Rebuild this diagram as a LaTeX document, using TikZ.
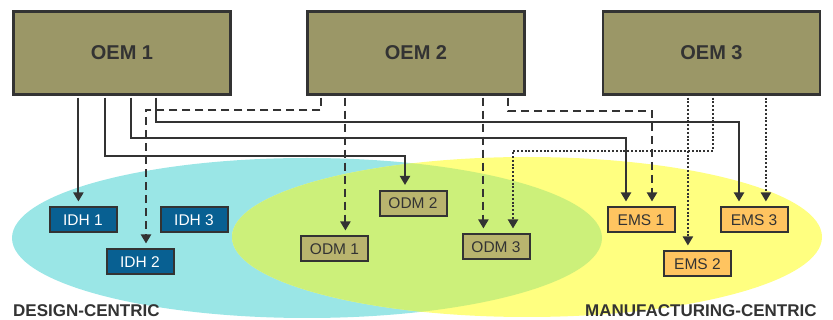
\documentclass[tikz,border=0pt]{standalone}
\usepackage{fontspec}
\setmainfont{Liberation Sans}
\usetikzlibrary{arrows.meta}
\definecolor{oemfill}{RGB}{155,151,103}
\definecolor{cyanfill}{RGB}{154,230,230}
\definecolor{yellowfill}{RGB}{255,255,128}
\definecolor{greenfill}{RGB}{204,240,122}
\definecolor{idhfill}{RGB}{8,96,146}
\definecolor{odmfill}{RGB}{185,180,110}
\definecolor{emsfill}{RGB}{255,196,96}
\definecolor{ink}{RGB}{51,51,51}
\tikzset{
  oembox/.style={draw=ink,line width=2.2pt,fill=oemfill,minimum width=217pt,minimum height=83pt,inner sep=0pt,
    font=\fontsize{20}{24}\selectfont\bfseries,text=ink},
  smallbox/.style={draw=ink,line width=2pt,minimum width=67pt,minimum height=25pt,inner sep=0pt,
    font=\fontsize{15.5}{18}\selectfont},
  idhbox/.style={smallbox,fill=idhfill,text=white},
  odmbox/.style={smallbox,fill=odmfill,text=ink},
  emsbox/.style={smallbox,fill=emsfill,text=ink},
  conn/.style={draw=ink,line width=2pt,-{Triangle[width=10pt,length=9pt]},shorten >=5pt,shorten <=2pt},
  solidc/.style={conn},
  dashc/.style={conn,dash pattern=on 8pt off 5pt},
  dotc/.style={conn,dash pattern=on 2pt off 1.8pt},
  grouplabel/.style={font=\fontsize{17}{20}\selectfont\bfseries,text=ink,inner sep=0pt,anchor=base west}
}
\begin{document}
\begin{tikzpicture}[x=1pt,y=-1pt]
\useasboundingbox (0,0) rectangle (833,320);
% ellipses
\fill[cyanfill] (307,238) ellipse [x radius=295pt, y radius=80pt];
\fill[yellowfill] (527,237) ellipse [x radius=295pt, y radius=80pt];
\begin{scope}
  \clip (307,238) ellipse [x radius=295pt, y radius=80pt];
  \fill[greenfill] (527,237) ellipse [x radius=295pt, y radius=80pt];
\end{scope}
% OEM boxes
\node[oembox] (oem1) at (122,53) {OEM 1};
\node[oembox] (oem2) at (416,53) {OEM 2};
\node[oembox] (oem3) at (711.5,53) {OEM 3};
% small boxes
\node[idhbox] (idh1) at (83,220) {IDH 1};
\node[idhbox] (idh3) at (194,220) {IDH 3};
\node[idhbox] (idh2) at (140,262) {IDH 2};
\node[odmbox] (odm1) at (334.5,249) {ODM 1};
\node[odmbox] (odm2) at (413,203.5) {ODM 2};
\node[odmbox] (odm3) at (496,247) {ODM 3};
\node[emsbox] (ems1) at (641,220) {EMS 1};
\node[emsbox] (ems3) at (754,220) {EMS 3};
\node[emsbox] (ems2) at (697.5,264) {EMS 2};
% labels
\node[grouplabel] (dl) at (13,317) {DESIGN-CENTRIC};
\node[grouplabel] (ml) at (585,317) {MANUFACTURING-CENTRIC};
% connectors from OEM 1 (solid)
\draw[solidc] ([xshift=66pt]oem1.south west) -- ([xshift=66pt]oem1.south west |- idh1.north);
\draw[solidc] ([xshift=93pt]oem1.south west) -- ++(0,60) -| ([xshift=-8pt]odm2.north);
\draw[solidc] ([xshift=119pt]oem1.south west) -- ++(0,42) -| ([xshift=-15pt]ems1.north);
\draw[solidc] ([xshift=144pt]oem1.south west) -- ++(0,26) -| ([xshift=-15pt]ems3.north);
% connectors from OEM 2 (dashed)
\draw[dashc] ([xshift=15pt]oem2.south west) -- ++(0,14) -| ([xshift=6pt]idh2.north);
\draw[dashc] ([xshift=39pt]oem2.south west) -- ([xshift=39pt]oem2.south west |- odm1.north);
\draw[dashc] ([xshift=177pt]oem2.south west) -- ([xshift=177pt]oem2.south west |- odm3.north);
\draw[dashc] ([xshift=202pt]oem2.south west) -- ++(0,15) -| ([xshift=11pt]ems1.north);
% connectors from OEM 3 (dotted)
\draw[dotc] ([xshift=86pt]oem3.south west) -- ([xshift=86pt]oem3.south west |- ems2.north);
\draw[dotc] ([xshift=111pt]oem3.south west) -- ++(0,55) -| ([xshift=17pt]odm3.north);
\draw[dotc] ([xshift=164pt]oem3.south west) -- ([xshift=164pt]oem3.south west |- ems3.north);
\end{tikzpicture}
\end{document}
